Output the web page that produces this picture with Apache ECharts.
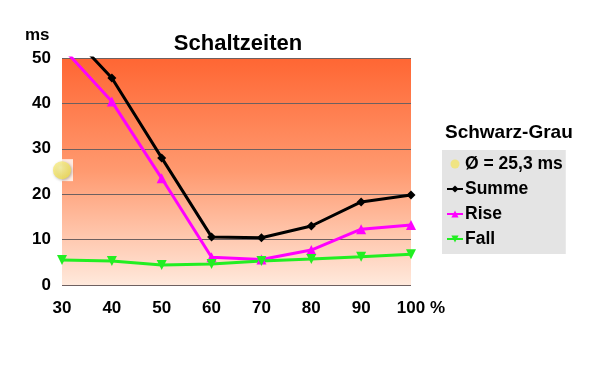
<!DOCTYPE html>
<html><head><meta charset="utf-8">
<script src="https://cdn.jsdelivr.net/npm/echarts@6/dist/echarts.min.js"></script>
<style>html,body{margin:0;padding:0;background:#fff}#c{width:600px;height:370px}</style>
</head><body><div id="c"></div>
<script>
const categories = ['30','40','50','60','70','80','90','100'];
const summe = [57.3, 45.6, 28.0, 10.6, 10.4, 13.0, 18.3, 19.8];
const rise  = [52.4, 40.4, 23.5, 6.1, 5.6, 7.7, 12.3, 13.2];
const fall  = [5.5, 5.3, 4.4, 4.6, 5.3, 5.7, 6.2, 6.8];
const avg   = [25.3, null, null, null, null, null, null, null];
const yTicks = [0, 10, 20, 30, 40, 50];

const font = '"Liberation Sans", Arial, sans-serif';
const chart = echarts.init(document.getElementById('c'));
chart.setOption({
  animation: false,
  title: {
    text: 'Schaltzeiten', left: 233, top: 28, textAlign: 'center',
    textStyle: {fontFamily: font, fontWeight: 'bold', fontSize: 22, color: '#000'}
  },
  graphic: [
    {type: 'text', left: 25, top: 27, style: {text: 'ms', font: 'bold 17px ' + font, fill: '#000'}},
    {type: 'text', left: 430, top: 300, style: {text: '%', font: 'bold 17px ' + font, fill: '#000'}},
    {type: 'text', left: 445, top: 123, style: {text: 'Schwarz-Grau', font: 'bold 19px ' + font, fill: '#000'}}
  ],
  legend: {
    orient: 'vertical', left: 442, top: 150,
    padding: [5, 3, 6, 4],
    backgroundColor: '#e4e4e4',
    itemWidth: 16, itemHeight: 9, itemGap: 7,
    textStyle: {fontFamily: font, fontWeight: 'bold', fontSize: 17.5, color: '#000', padding: [0,0,0,-3]},
    data: [
      {name: 'Ø = 25,3 ms', icon: 'circle', itemStyle: {color: '#f2e46a'}},
      'Summe', 'Rise', 'Fall'
    ]
  },
  grid: {
    left: 62, right: 189, top: 58, bottom: 85, show: true, borderWidth: 0,
    backgroundColor: new echarts.graphic.LinearGradient(0, 0, 0, 1, [
      {offset: 0, color: '#ff6633'},
      {offset: 0.5, color: '#ff9a70'},
      {offset: 1, color: '#ffe9dc'}
    ])
  },
  xAxis: {
    type: 'category', data: categories, boundaryGap: false,
    axisLine: {show: false}, axisTick: {show: false},
    axisLabel: {fontFamily: font, fontWeight: 'bold', fontSize: 17, color: '#000', margin: 15}
  },
  yAxis: {
    type: 'value', min: 0, max: 50, interval: 10,
    axisLine: {show: false}, axisTick: {show: false},
    splitLine: {lineStyle: {color: '#6e6060', width: 1}},
    axisLabel: {fontFamily: font, fontWeight: 'bold', fontSize: 17, color: '#000', margin: 11,
      formatter: v => yTicks.includes(v) ? String(v) : ''}
  },
  series: [
    {name: 'bg', type: 'scatter', data: avg, symbol: 'rect', symbolSize: 22,
      itemStyle: {color: '#ffffff'}, z: 3, silent: true},
    {name: 'Ø = 25,3 ms', type: 'scatter', data: avg, symbolSize: 18,
      itemStyle: {color: new echarts.graphic.RadialGradient(0.4, 0.35, 0.7, [
        {offset: 0, color: '#fff7a0'}, {offset: 1, color: '#f2de4a'}]),
        shadowColor: 'rgba(0,0,0,0.35)', shadowBlur: 3, shadowOffsetX: 1, shadowOffsetY: 1}, z: 4},
    {name: 'Summe', type: 'line', data: summe, symbol: 'diamond', symbolSize: 9,
      lineStyle: {color: '#000', width: 3}, itemStyle: {color: '#000'}, z: 5},
    {name: 'Rise', type: 'line', data: rise, symbol: 'triangle', symbolSize: 10,
      lineStyle: {color: '#ff00ff', width: 3}, itemStyle: {color: '#ff00ff'}, z: 5},
    {name: 'Fall', type: 'line', data: fall, symbol: 'triangle', symbolRotate: 180, symbolSize: 10,
      lineStyle: {color: '#22ee22', width: 3}, itemStyle: {color: '#22ee22'}, z: 5}
  ]
});
</script></body></html>
